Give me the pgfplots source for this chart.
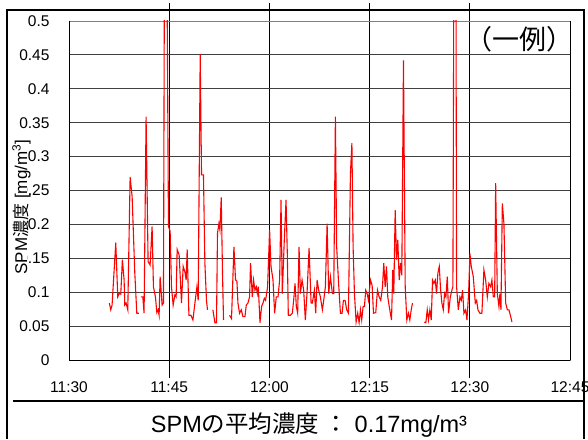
\documentclass[border=0pt]{standalone}
\usepackage{pgfplots}
\usepackage{pgfplotstable}
\pgfplotsset{compat=1.18}
\usepackage{fontspec}
\setmainfont{Liberation Sans}
\newfontfamily\cjk{Noto Sans CJK JP}

\pgfplotstableread{
m y
6.04 0.084
6.25 0.074
6.45 0.081
7.00 0.173
7.30 0.093
7.50 0.098
7.75 0.097
7.99 0.148
8.25 0.118
8.35 0.081
8.55 0.084
8.80 0.074
9.15 0.270
9.45 0.241
9.85 0.128
10.15 0.069
10.45 0.069
10.60 nan
10.75 0.093
11.05 0.093
11.24 0.069
11.54 0.359
11.84 0.145
12.14 0.140
12.44 0.197
12.64 0.108
12.94 0.093
13.15 0.070
13.34 0.074
13.49 0.066
13.64 0.123
13.94 0.081
14.14 0.084
14.29 0.600
14.65 0.600
14.89 0.197
15.14 0.190
15.34 0.108
15.59 0.081
15.85 0.096
16.04 0.093
16.19 0.163
16.49 0.155
16.84 0.084
17.09 0.138
17.35 0.130
17.54 0.118
17.69 0.163
17.95 0.066
18.25 0.066
18.55 0.059
18.85 0.084
19.15 0.108
19.34 0.088
19.64 0.451
19.84 0.273
20.13 0.273
20.34 0.143
20.58 0.088
20.73 0.074
21.10 nan
21.54 0.074
21.84 0.055
22.08 0.055
22.23 0.187
22.44 0.201
22.59 0.192
22.79 0.240
22.98 0.128
23.13 0.059
23.60 nan
24.03 0.066
24.33 0.061
24.69 0.167
24.93 0.118
25.14 0.116
25.29 0.084
25.53 0.069
25.79 0.074
26.04 0.064
26.34 0.064
26.54 0.081
26.79 0.084
27.03 0.093
27.18 0.143
27.44 0.093
27.63 0.118
27.84 0.103
28.04 0.108
28.19 0.098
28.34 0.108
28.59 0.055
28.83 0.079
29.04 0.084
29.24 0.091
29.43 0.088
29.73 0.108
30.03 0.192
30.24 0.138
30.54 0.118
30.78 0.069
31.03 0.093
31.29 0.093
31.53 0.118
31.74 0.236
31.93 0.098
32.23 0.177
32.49 0.236
32.68 0.157
32.83 0.066
33.13 0.066
33.43 0.069
33.63 0.088
33.84 0.113
34.03 0.079
34.23 0.069
34.44 0.167
34.63 0.098
34.89 0.118
35.13 0.103
35.38 0.059
35.64 0.100
35.94 0.165
36.24 0.084
36.43 0.084
36.73 0.103
36.93 0.069
37.14 0.118
37.38 0.103
37.63 0.093
37.93 0.074
38.13 0.088
38.38 0.108
38.64 0.201
38.88 0.098
39.13 0.123
39.43 0.098
39.63 0.098
39.88 0.359
40.07 0.167
40.33 0.118
40.63 0.069
40.88 0.069
41.08 0.088
41.33 0.088
41.57 0.074
41.83 0.069
42.13 0.275
42.35 0.320
42.53 0.167
42.73 0.098
42.98 0.056
43.22 0.069
43.43 0.055
43.63 0.074
43.82 0.059
44.03 0.079
44.23 0.079
44.42 0.103
44.63 0.098
44.83 0.088
45.13 0.118
45.38 0.110
45.58 0.069
45.92 0.070
46.18 0.103
46.43 0.093
46.67 0.088
46.93 0.108
47.12 0.143
47.33 0.108
47.53 0.138
47.72 0.093
48.02 0.074
48.28 0.059
48.47 0.133
48.62 0.098
48.83 0.221
49.03 0.148
49.22 0.177
49.43 0.118
49.63 0.143
49.82 0.125
50.07 0.442
50.33 0.108
50.57 0.059
50.82 0.069
51.02 0.059
51.23 0.074
51.42 0.084
52.30 nan
53.18 0.056
53.42 0.055
53.63 0.074
53.82 0.059
54.02 0.074
54.23 0.059
54.42 0.118
54.62 0.113
54.83 0.118
55.02 0.098
55.22 0.128
55.43 0.138
55.62 0.105
55.82 0.084
56.03 0.074
56.22 0.098
56.42 0.093
56.63 0.123
56.82 0.069
57.08 0.093
57.32 0.103
57.47 0.108
57.62 0.600
57.92 0.600
58.02 0.108
58.28 0.074
58.52 0.093
58.72 0.088
58.92 0.103
59.12 0.069
59.37 0.074
59.57 0.059
59.82 0.098
60.02 0.157
60.22 0.138
60.52 0.123
60.82 0.084
61.02 0.088
61.22 0.074
61.51 0.069
61.81 0.069
62.11 0.133
62.37 0.118
62.62 0.093
62.86 0.113
63.12 0.108
63.31 0.118
63.52 0.093
63.72 0.093
63.87 0.261
64.12 0.098
64.36 0.079
64.51 0.098
64.66 0.074
64.87 0.231
65.11 0.201
65.37 0.084
65.62 0.074
65.86 0.074
66.12 0.064
66.31 0.056
}\spm

\begin{document}
\begin{tikzpicture}[x=1pt,y=1pt]
\path[use as bounding box] (0,0) rectangle (588,439);
\begin{axis}[
  at={(69pt,79pt)}, anchor=south west,
  width=501pt, height=339pt, scale only axis,
  xmin=0, xmax=75, ymin=0, ymax=0.5,
  axis line style={draw=black!50, line width=0.8pt},
  xtick={15,30,45,60},
  xticklabels={11:45,12:00,12:15,12:30},
  extra x ticks={0,75},
  extra x tick labels={11:30,12:45},
  extra x tick style={major tick length=0pt, xticklabel style={yshift=-18pt}},
  tick align=outside,
  major tick length=18pt,
  x tick style={draw=black, line width=0.8pt},
  xmajorgrids,
  x grid style={draw=black, line width=0.8pt},
  ytick={0,0.05,0.1,0.15,0.2,0.25,0.3,0.35,0.4,0.45,0.5},
  yticklabels={0,0.05,0.1,0.15,0.2,0.25,0.3,0.35,0.4,0.45,0.5},
  y tick style={draw=none},
  ymajorgrids,
  y grid style={draw=black!75, line width=0.8pt},
  ticklabel style={font=\fontsize{15.5}{17}\selectfont},
  yticklabel style={xshift=2pt},
  ylabel={SPM{\cjk 濃度} [mg/m\textsuperscript{3}]},
  ylabel style={at={(axis description cs:-0.0958,0.451)}, anchor=center,
     font=\fontsize{17}{19}\selectfont, fill=white, inner sep=0pt,
     text height=12pt, text depth=0pt},
  unbounded coords=jump,
  clip=true,
]
\addplot[draw=red, line width=1.1pt, no markers] table[x=m, y=y] {\spm};
\draw[black, line width=1pt] (axis cs:0,0.5) -- (axis cs:0,0) -- (axis cs:75,0);
\node[font=\cjk\fontsize{27}{30}\selectfont] at (axis description cs:0.90,0.947) {（一例）};
\end{axis}
\draw[black, line width=2.5pt] (7,0) -- (7,429) -- (584,429) -- (584,0);
\draw[black, line width=1.2pt] (13,38) -- (584,38);
\node[anchor=base, font=\fontsize{23.5}{26}\selectfont] at (309,7) {SPM{\cjk の平均濃度 ：} 0.17mg/m³};
\end{tikzpicture}
\end{document}
